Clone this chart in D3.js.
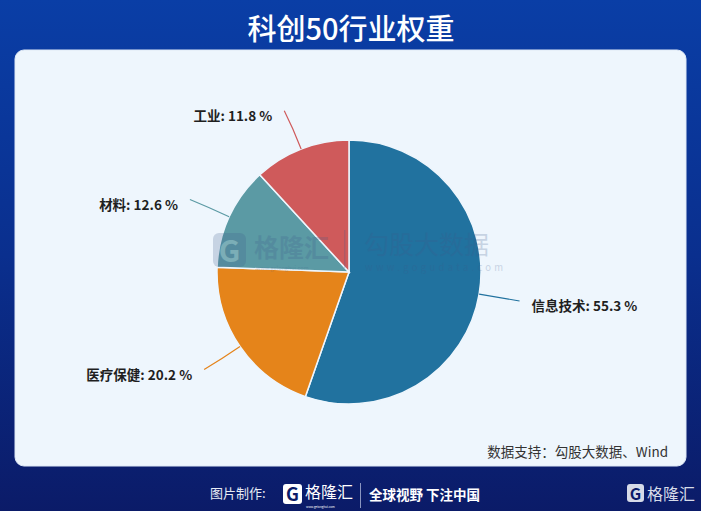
<!DOCTYPE html>
<html><head><meta charset="utf-8">
<script src="https://cdn.jsdelivr.net/npm/d3@7/dist/d3.min.js"></script>
<style>html,body{margin:0;padding:0;background:#0a2a88;}svg{display:block;}</style>
</head><body>
<svg id="c" width="701" height="511"></svg>
<script>
const title = "科创50行业权重";
const categories = ["信息技术", "医疗保健", "材料", "工业"];
const values = [55.3, 20.2, 12.6, 11.8];
const colors = ["#21729f", "#e5841a", "#5b9aa4", "#cf5a5b"];
const source = "数据支持：勾股大数据、Wind";

const svg = d3.select("#c");
const W = 701, H = 511;
const font = "'Noto Sans CJK SC','Noto Sans',sans-serif";

const defs = svg.append("defs");
const g1 = defs.append("linearGradient").attr("id","bg").attr("x1",0).attr("y1",0).attr("x2",0).attr("y2",1);
g1.append("stop").attr("offset","0").attr("stop-color","#0a3ea6");
g1.append("stop").attr("offset","0.5").attr("stop-color","#0a2f8e");
g1.append("stop").attr("offset","1").attr("stop-color","#0b1b68");
svg.append("rect").attr("width",W).attr("height",H).attr("fill","url(#bg)");

svg.append("text").attr("x",351).attr("y",40).attr("text-anchor","middle")
  .attr("font-family",font).attr("font-size",29).attr("font-weight",500)
  .attr("fill","#fff").text(title);

// panel
svg.append("rect").attr("x",15).attr("y",50).attr("width",671).attr("height",416)
  .attr("rx",9).attr("fill","#eef6fd").attr("stroke","#dfe9f6").attr("stroke-width",1);

const cx = 349, cy = 272, R = 132;
const pie = d3.pie().sort(null).value(d => d)(values);
const arc = d3.arc().innerRadius(0).outerRadius(R);
const gP = svg.append("g").attr("transform",`translate(${cx},${cy})`);
gP.selectAll("path.s").data(pie).join("path").attr("class","s")
  .attr("d",arc).attr("fill",(d,i)=>colors[i])
  .attr("stroke","#eef6fd").attr("stroke-width",1.5);

// watermark
const wm = svg.append("g").attr("opacity",0.22).attr("fill","#3d5a8a");
wm.append("rect").attr("x",213).attr("y",233).attr("width",33).attr("height",34).attr("rx",6);
wm.append("text").attr("x",229.5).attr("y",262).attr("text-anchor","middle").attr("font-family",font)
  .attr("font-size",30).attr("font-weight","bold").attr("fill","#eef6fd").text("G");
wm.append("text").attr("x",254).attr("y",257).attr("font-family",font).attr("font-size",25).attr("font-weight","bold").text("格隆汇");
wm.append("text").attr("x",256).attr("y",270).attr("font-family",font).attr("font-size",5.5).text("www.gelonghui.com");
wm.append("rect").attr("x",344).attr("y",230).attr("width",1.5).attr("height",38);
wm.append("text").attr("x",364).attr("y",254).attr("font-family",font).attr("font-size",25).text("勾股大数据");
wm.append("text").attr("x",365).attr("y",271).attr("font-family",font).attr("font-size",9.5).attr("letter-spacing",3.3).text("www.gogudata.com");

// labels
const gL = svg.append("g").attr("transform",`translate(${cx},${cy})`);
pie.forEach((d,i) => {
  const a = (d.startAngle + d.endAngle)/2;
  const pt = r => [r*Math.sin(a), -r*Math.cos(a)];
  const p0 = pt(R), p1 = pt(R+22), p2 = pt(R+41);
  const right = Math.sin(a) > 0;
  const p2b = [p2[0] + (right ? 0 : -2), p2[1]];
  gL.append("path").attr("d",`M${p0[0]},${p0[1]} Q${p1[0]},${p1[1]} ${p2b[0]},${p2b[1]}`)
    .attr("fill","none").attr("stroke",colors[i]).attr("stroke-width",1.2);
  gL.append("text").attr("x",p2b[0] + (right ? 12 : -12)).attr("y",p2b[1]+4)
    .attr("dominant-baseline","central")
    .attr("text-anchor", right ? "start" : "end")
    .attr("font-family",font).attr("font-size",13.5).attr("font-weight","bold")
    .attr("fill","#1f1f1f")
    .text(`${categories[i]}: ${d3.format(".1f")(values[i])} %`);
});

svg.append("text").attr("x",668).attr("y",457).attr("text-anchor","end")
  .attr("font-family",font).attr("font-size",13.5).attr("fill","#333").text(source);

// footer
const ft = svg.append("g").attr("fill","#fff").attr("font-family",font);
ft.append("text").attr("x",210).attr("y",498).attr("font-size",13).attr("fill","#e8ecf5").text("图片制作:");
ft.append("rect").attr("x",283).attr("y",484).attr("width",19).attr("height",20).attr("rx",3);
ft.append("text").attr("x",292.5).attr("y",501).attr("text-anchor","middle").attr("font-size",18).attr("font-weight","bold").attr("fill","#0b1b68").text("G");
ft.append("text").attr("x",305).attr("y",498).attr("font-size",16).text("格隆汇");
ft.append("text").attr("x",306).attr("y",508).attr("font-size",3).text("www.gelonghui.com");
ft.append("rect").attr("x",360).attr("y",483).attr("width",1).attr("height",25).attr("fill","#8a95c0");
ft.append("text").attr("x",369).attr("y",500).attr("font-size",13.5).attr("font-weight","bold").text("全球视野 下注中国");
ft.append("rect").attr("x",627).attr("y",484).attr("width",17).attr("height",18).attr("rx",3).attr("fill","#d6dbe8");
ft.append("text").attr("x",635.5).attr("y",499.5).attr("text-anchor","middle").attr("font-size",16).attr("font-weight","bold").attr("fill","#0b1b68").text("G");
ft.append("text").attr("x",647).attr("y",500).attr("font-size",16).attr("fill","#d6dbe8").text("格隆汇");
</script>
</body></html>
